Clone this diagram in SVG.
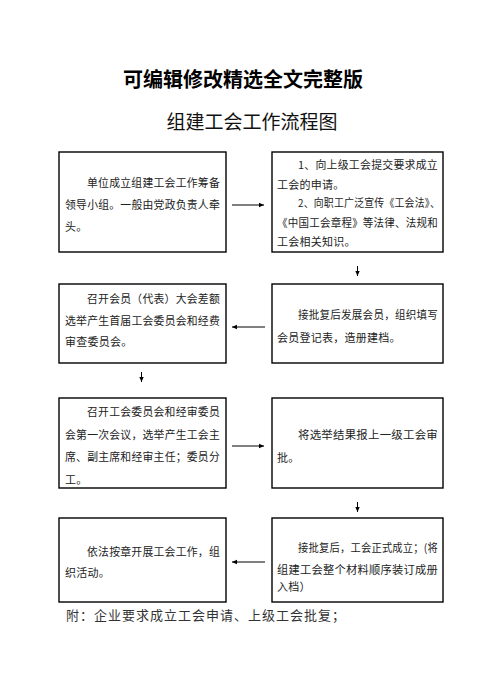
<svg xmlns="http://www.w3.org/2000/svg" width="496" height="691" viewBox="0 0 496 691">
<style>
.box{fill:#fff;stroke:#000;stroke-width:1.4}
.t{font-family:"Noto Sans CJK SC","Noto Sans",sans-serif;font-size:11px;fill:#222;letter-spacing:0.25px}
.c{stroke:#000;stroke-width:1;fill:none}
</style>
<defs>
<marker id="ah" markerWidth="6" markerHeight="6" refX="5" refY="3" orient="auto" markerUnits="userSpaceOnUse">
<path d="M0,0.8 L5,3 L0,5.2 Z" fill="#000"/>
</marker>
</defs>
<rect width="496" height="691" fill="#fff"/>
<text x="243" y="87" text-anchor="middle" font-family="'Noto Sans CJK SC',sans-serif" font-weight="bold" font-size="20" fill="#000">可编辑修改精选全文完整版</text>
<text x="252" y="129" text-anchor="middle" font-family="'Noto Sans CJK SC',sans-serif" font-size="19" fill="#111">组建工会工作流程图</text>

<g id="n1">
<rect class="box" x="59" y="152" width="167" height="100"/>
<text class="t" x="87" y="187" textLength="133" lengthAdjust="spacingAndGlyphs">单位成立组建工会工作筹备</text>
<text class="t" x="65" y="209" textLength="155" lengthAdjust="spacingAndGlyphs">领导小组。一般由党政负责人牵</text>
<text class="t" x="65" y="231">头。</text>
</g>
<g id="n2">
<rect class="box" x="272" y="152" width="171" height="100"/>
<text class="t" x="298" y="169" textLength="140" lengthAdjust="spacingAndGlyphs">1、向上级工会提交要求成立</text>
<text class="t" x="277" y="189">工会的申请。</text>
<text class="t" x="298" y="207" textLength="142" lengthAdjust="spacingAndGlyphs">2、向职工广泛宣传《工会法》、</text>
<text class="t" x="277" y="227" textLength="161" lengthAdjust="spacingAndGlyphs">《中国工会章程》等法律、法规和</text>
<text class="t" x="277" y="246">工会相关知识。</text>
</g>
<g id="n3">
<rect class="box" x="59" y="284" width="167" height="79"/>
<text class="t" x="87" y="303" textLength="133" lengthAdjust="spacingAndGlyphs">召开会员（代表）大会差额</text>
<text class="t" x="65" y="325" textLength="155" lengthAdjust="spacingAndGlyphs">选举产生首届工会委员会和经费</text>
<text class="t" x="65" y="346">审查委员会。</text>
</g>
<g id="n4">
<rect class="box" x="272" y="284" width="171" height="79"/>
<text class="t" x="298" y="319" textLength="140" lengthAdjust="spacingAndGlyphs">接批复后发展会员，组织填写</text>
<text class="t" x="277" y="342">会员登记表，造册建档。</text>
</g>
<g id="n5">
<rect class="box" x="59" y="398" width="167" height="90"/>
<text class="t" x="87" y="416" textLength="133" lengthAdjust="spacingAndGlyphs">召开工会委员会和经审委员</text>
<text class="t" x="65" y="439" textLength="155" lengthAdjust="spacingAndGlyphs">会第一次会议，选举产生工会主</text>
<text class="t" x="65" y="461" textLength="155" lengthAdjust="spacingAndGlyphs">席、副主席和经审主任；委员分</text>
<text class="t" x="65" y="484">工。</text>
</g>
<g id="n6">
<rect class="box" x="272" y="398" width="171" height="90"/>
<text class="t" x="298" y="439" textLength="140" lengthAdjust="spacingAndGlyphs">将选举结果报上一级工会审</text>
<text class="t" x="277" y="462">批。</text>
</g>
<g id="n7">
<rect class="box" x="59" y="518" width="167" height="84"/>
<text class="t" x="87" y="556" textLength="133" lengthAdjust="spacingAndGlyphs">依法按章开展工会工作，组</text>
<text class="t" x="65" y="577">织活动。</text>
</g>
<g id="n8">
<rect class="box" x="272" y="518" width="171" height="84"/>
<text class="t" x="298" y="552" textLength="140" lengthAdjust="spacingAndGlyphs">接批复后，工会正式成立；(将</text>
<text class="t" x="277" y="574" textLength="161" lengthAdjust="spacingAndGlyphs">组建工会整个材料顺序装订成册</text>
<text class="t" x="277" y="591">入档）</text>
</g>

<g id="connectors">
<line class="c" x1="232" y1="205" x2="264" y2="205" marker-end="url(#ah)"/>
<line class="c" x1="357.5" y1="266" x2="357.5" y2="276" marker-end="url(#ah)"/>
<line class="c" x1="265" y1="327" x2="232" y2="327" marker-end="url(#ah)"/>
<line class="c" x1="141.5" y1="372" x2="141.5" y2="382" marker-end="url(#ah)"/>
<line class="c" x1="232" y1="446" x2="264" y2="446" marker-end="url(#ah)"/>
<line class="c" x1="357.5" y1="502" x2="357.5" y2="512" marker-end="url(#ah)"/>
<line class="c" x1="265" y1="562" x2="232" y2="562" marker-end="url(#ah)"/>
</g>

<text x="66" y="620" font-family="'Noto Sans CJK SC',sans-serif" font-size="13" letter-spacing="1" fill="#333">附：企业要求成立工会申请、上级工会批复；</text>
</svg>
